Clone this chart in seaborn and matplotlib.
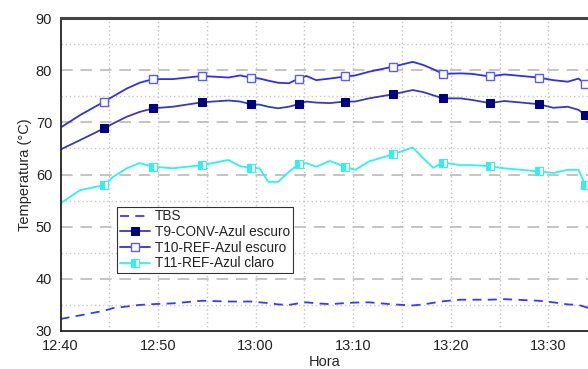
import matplotlib
matplotlib.use("Agg")
import matplotlib.pyplot as plt
import seaborn as sns
from matplotlib.ticker import MultipleLocator

# ---------------------------
# Datos (minutos desde 12:40)
# ---------------------------
minutos = [0, 2, 4.5, 5.4, 6.8, 8.1, 9.5, 11.5, 14.5, 17.2, 18.4, 19.5, 20.4,
           21.3, 22.3, 23.4, 24.4, 25.2, 26.2, 27.6, 29.2, 30.2, 31.6, 34.1,
           36.1, 37.2, 38.2, 39.2, 41.0, 42.2, 44.0, 45.5, 49.0, 50.5, 52.0,
           53.1, 53.8, 54.5]

tbs = [32.3, 33.0, 33.9, 34.4, 34.7, 35.0, 35.15, 35.3, 35.8, 35.65, 35.65,
       35.65, 35.5, 35.35, 35.1, 35.0, 35.3, 35.5, 35.3, 35.15, 35.35, 35.45,
       35.5, 35.1, 34.9, 35.1, 35.4, 35.7, 36.0, 36.0, 36.0, 36.1, 35.8,
       35.5, 35.1, 35.0, 34.6, 34.2]

t9 = [64.8, 66.6, 68.9, 69.8, 71.1, 72.0, 72.7, 73.0, 73.85, 74.2, 74.0,
      73.5, 73.4, 73.0, 72.7, 73.0, 73.5, 74.0, 73.8, 73.7, 74.0, 74.0, 74.6,
      75.4, 76.2, 75.8, 75.2, 74.6, 74.6, 74.3, 73.7, 74.1, 73.5, 72.8, 73.0,
      72.4, 71.4, 71.0]

t10 = [69.0, 71.4, 74.0, 75.0, 76.5, 77.6, 78.3, 78.3, 78.9, 78.6, 79.0,
       78.6, 78.4, 78.0, 77.6, 77.5, 78.4, 78.9, 78.1, 78.4, 78.8, 79.0, 79.7,
       80.7, 81.6, 81.0, 80.2, 79.3, 79.4, 79.3, 78.8, 79.2, 78.6, 78.1, 77.8,
       78.4, 77.3, 77.0]

t11 = [54.5, 57.0, 58.0, 59.6, 61.2, 62.2, 61.5, 61.2, 61.8, 62.8, 61.6,
       61.3, 61.2, 58.6, 58.6, 60.5, 62.0, 62.2, 61.5, 62.6, 61.5, 60.9, 62.5,
       63.9, 65.2, 63.1, 61.3, 62.3, 61.8, 61.8, 61.6, 61.2, 60.6, 60.3, 60.9,
       60.9, 58.0, 57.5]

marcas = [4.5, 9.5, 14.5, 19.5, 24.4, 29.2, 34.1, 39.2, 44.0, 49.0, 53.8]
idx_marcas = [minutos.index(m) for m in marcas]

ticks_x = [0, 10, 20, 30, 40, 50]
etiquetas_x = ["12:40", "12:50", "13:00", "13:10", "13:20", "13:30"]

# ---------------------------
# Figura
# ---------------------------
sns.set_style("white")
plt.rcParams["font.family"] = ["Liberation Sans", "DejaVu Sans"]
plt.rcParams["text.color"] = "#222222"

fig = plt.figure(figsize=(5.88, 3.69), dpi=100)
ax = fig.add_axes([0.103, 0.103, 0.897, 0.848])

sns.lineplot(x=minutos, y=tbs, ax=ax, color="#3838ff", lw=1.3,
             dashes=False, linestyle=(0, (5, 3.5)), label="TBS")
sns.lineplot(x=minutos, y=t9, ax=ax, color="#3a3ab4", lw=1.3,
             marker="s", markersize=5.5, markerfacecolor="#000080",
             markeredgecolor="#000080", markevery=idx_marcas,
             label="T9-CONV-Azul escuro")
sns.lineplot(x=minutos, y=t10, ax=ax, color="#3030e8", lw=1.3,
             marker="s", markersize=5.5, markerfacecolor="white",
             markeredgecolor="#5a5aff", markeredgewidth=1.0,
             markevery=idx_marcas, label="T10-REF-Azul escuro")
sns.lineplot(x=minutos, y=t11, ax=ax, color="#30f0f0", lw=1.3,
             marker="s", markersize=5.5, markerfacecolor="#30f0f0",
             markerfacecoloralt="white", fillstyle="left",
             markeredgecolor="#30f0f0", markevery=idx_marcas,
             label="T11-REF-Azul claro")

ax.set_xlim(0, 54.07)
ax.set_ylim(30, 90)

ax.set_xticks(ticks_x)
ax.set_xticklabels(etiquetas_x)
ax.xaxis.set_minor_locator(MultipleLocator(5))
ax.yaxis.set_major_locator(MultipleLocator(10))
ax.yaxis.set_minor_locator(MultipleLocator(5))

# rejilla
ax.grid(False)
for v in [40, 50, 60, 70, 80]:
    ax.axhline(v, color="#c4c4c4", lw=1.4, ls=(0, (6, 4)), zorder=0)
for v in [35, 45, 55, 65, 75, 85]:
    ax.axhline(v, color="#c8c8c8", lw=1.0, ls=(0, (1, 2)), zorder=0)
for v in range(5, 55, 5):
    ax.axvline(v, color="#c0c0c0", lw=1.0, ls=(0, (1, 2)), zorder=0)

ax.tick_params(axis="both", which="major", direction="out", length=4,
               width=1.2, labelsize=10.5, colors="#222222", pad=2)
ax.tick_params(axis="both", which="minor", direction="out", length=2.5,
               width=1.0, colors="#222222")
ax.tick_params(axis="x", which="both", top=False)
ax.tick_params(axis="y", which="both", right=False)

ax.spines["left"].set_color("#222222")
ax.spines["left"].set_linewidth(1.3)
ax.spines["bottom"].set_color("#222222")
ax.spines["bottom"].set_linewidth(1.3)
ax.spines["top"].set_color("#444444")
ax.spines["top"].set_linewidth(2.2)
ax.spines["right"].set_visible(False)

ax.set_xlabel("Hora", fontsize=10.5, labelpad=1)
ax.set_ylabel("Temperatura (°C)", fontsize=10.5, labelpad=3)

leg = ax.legend(loc="lower left", bbox_to_anchor=(0.107, 0.185),
                fontsize=9.8, frameon=True, fancybox=False, framealpha=1,
                edgecolor="#333333", handlelength=2.2, handletextpad=0.4,
                borderpad=0.2, labelspacing=0.12, borderaxespad=0)
leg.get_frame().set_linewidth(0.8)

plt.savefig("out.png", dpi=100)
plt.close()
